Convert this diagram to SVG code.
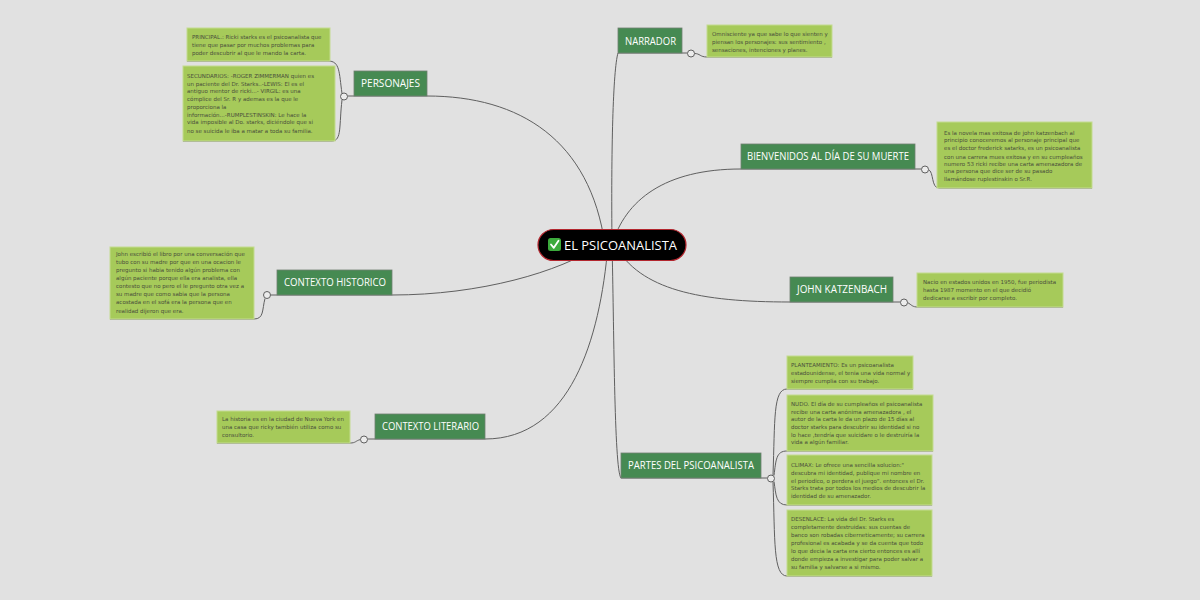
<svg xmlns="http://www.w3.org/2000/svg" width="1200" height="600" viewBox="0 0 1200 600">
<style>
.bg{fill:#e1e1e1}
.con{fill:none;stroke:#5f5f5f;stroke-width:1}
.dot{fill:#ececec;stroke:#5f5f5f;stroke-width:1}
.topic{fill:#468a52;stroke:#6f7f70;stroke-width:0.8}
.tl{font-family:"Open Sans","Liberation Sans",sans-serif;font-size:10px;fill:#ffffff}
.note{fill:#a6ca5a;stroke:#c4dc90;stroke-width:1}
.nt{font-family:"DejaVu Sans","Liberation Sans",sans-serif;font-size:5.5px;fill:#4a4f3a}
</style>
<rect class="bg" x="0" y="0" width="1200" height="600"/>

<g id="connectors">
  <path class="con" d="M612,245 C611,150 613,70 618,53 H687.5"/>
  <path class="con" d="M694.5,53.5 C700,53.5 700,57 707,57 H832"/>
  <path class="con" d="M605,245 C590,140 520,96 427,96 H347.5"/>
  <path class="con" d="M342,93.5 C339,72 340,61 328,61 H187"/>
  <path class="con" d="M342,100 C339,125 342,141 332,141 H183"/>
  <path class="con" d="M612,245 C625,200 665,169 741,169 H921.5"/>
  <path class="con" d="M928.5,169.5 C934,172 931,188 939,188 H1092"/>
  <path class="con" d="M600,245 C560,272 480,295 392,295 H270.5"/>
  <path class="con" d="M265,298.5 C262,310 264,319 254,319 H110"/>
  <path class="con" d="M615,245 C640,290 700,302 790,302 H900.5"/>
  <path class="con" d="M907.5,302.5 C912,305 912,307 918,307 H1063"/>
  <path class="con" d="M608,245 C600,340 570,439 485,439 H367.5"/>
  <path class="con" d="M360.5,439.5 C355,441 356,443 350,443 H217"/>
  <path class="con" d="M612,245 C614,320 614,470 621,478 H767.5"/>
  <path class="con" d="M773,475 C775,420 773,389 787,389 H913"/>
  <path class="con" d="M774,475.5 C776,460 776,451 787,451 H933"/>
  <path class="con" d="M774,481.5 C776,495 776,505 787,505 H932"/>
  <path class="con" d="M773,482 C775,540 773,576 787,576 H932"/>
  <circle class="dot" cx="691" cy="53.5" r="3.5"/>
  <circle class="dot" cx="344" cy="96.5" r="3.5"/>
  <circle class="dot" cx="925" cy="169.5" r="3.5"/>
  <circle class="dot" cx="267" cy="295" r="3.5"/>
  <circle class="dot" cx="904" cy="302.5" r="3.5"/>
  <circle class="dot" cx="364" cy="439.5" r="3.5"/>
  <circle class="dot" cx="771" cy="478.5" r="3.5"/>
</g>

<g id="center">
  <rect x="538" y="229.5" width="148" height="31" rx="15.5" fill="#000000" stroke="#b3262e" stroke-width="1.2"/>
  <rect x="548" y="238" width="13" height="13" rx="2.5" fill="#3caa3c"/>
  <path d="M551,244.5 L553.8,247.8 L558.5,240.8" fill="none" stroke="#ffffff" stroke-width="1.8" stroke-linecap="round" stroke-linejoin="round"/>
  <text x="564" y="249.5" font-family="'Open Sans','Liberation Sans',sans-serif" font-size="13.5" fill="#ffffff" textLength="113" lengthAdjust="spacingAndGlyphs">EL PSICOANALISTA</text>
</g>

<g id="narrador">
  <rect class="topic" x="618" y="28" width="64" height="25"/>
  <text class="tl" x="625" y="44.5" textLength="51" lengthAdjust="spacingAndGlyphs">NARRADOR</text>
</g>
<g id="narrador-note">
  <rect class="note" x="707" y="25" width="125" height="32"/>
  <text class="nt" x="712" y="36">Omnisciente ya que sabe lo que sienten y</text>
  <text class="nt" x="712" y="44">piensan los personajes: sus sentimiento ,</text>
  <text class="nt" x="712" y="52">sensaciones, intenciones y planes.</text>
</g>

<g id="personajes">
  <rect class="topic" x="354" y="71" width="73" height="25"/>
  <text class="tl" x="361" y="87" textLength="59" lengthAdjust="spacingAndGlyphs">PERSONAJES</text>
</g>
<g id="principal-note">
  <rect class="note" x="187" y="28" width="143" height="33"/>
  <text class="nt" x="192" y="39">PRINCIPAL.: Ricki starks es el psicoanalista que</text>
  <text class="nt" x="192" y="47">tiene que pasar por muchos problemas para</text>
  <text class="nt" x="192" y="54.5">poder descubrir al que le mando la carta.</text>
</g>
<g id="secundarios-note">
  <rect class="note" x="183" y="66" width="152" height="75"/>
  <text class="nt" x="187" y="78">SECUNDARIOS: -ROGER ZIMMERMAN quien es</text>
  <text class="nt" x="187" y="85.5">un paciente del Dr. Starks..-LEWIS: El es el</text>
  <text class="nt" x="187" y="93">antiguo mentor de ricki...- VIRGIL: es una</text>
  <text class="nt" x="187" y="101">cómplice del Sr. R y ademas es la que le</text>
  <text class="nt" x="187" y="109">proporciona la</text>
  <text class="nt" x="187" y="116.5">información...-RUMPLESTINSKIN: Le hace la</text>
  <text class="nt" x="187" y="124">vida imposible al Do. starks, diciéndole que si</text>
  <text class="nt" x="187" y="133">no se suicida le iba a matar a toda su familia.</text>
</g>

<g id="bienvenidos">
  <rect class="topic" x="741" y="144" width="174" height="25"/>
  <text class="tl" x="747" y="160" textLength="162" lengthAdjust="spacingAndGlyphs">BIENVENIDOS AL DÍA DE SU MUERTE</text>
</g>
<g id="bienvenidos-note">
  <rect class="note" x="937" y="122" width="155" height="66"/>
  <text class="nt" x="944" y="135">Es la novela mas exitosa de john katzenbach al</text>
  <text class="nt" x="944" y="142">principio conoceremos al personaje principal que</text>
  <text class="nt" x="944" y="149.5">es el doctor frederick satarks, es un psicoanalista</text>
  <text class="nt" x="944" y="158.5">con una carrera mues exitosa y en su cumpleaños</text>
  <text class="nt" x="944" y="165.5">numero 53 ricki recibe una carta amenazadora de</text>
  <text class="nt" x="944" y="173">una persona que dice ser de su pasado</text>
  <text class="nt" x="944" y="181">llamándose ruplestinskin o Sr.R.</text>
</g>

<g id="contexto-historico">
  <rect class="topic" x="277" y="270" width="115" height="25"/>
  <text class="tl" x="284" y="285.5" textLength="102" lengthAdjust="spacingAndGlyphs">CONTEXTO HISTORICO</text>
</g>
<g id="historico-note">
  <rect class="note" x="110" y="247" width="144" height="72"/>
  <text class="nt" x="116" y="256">John escribió el libro por una conversación que</text>
  <text class="nt" x="116" y="264">tubo con su madre por que en una ocacion le</text>
  <text class="nt" x="116" y="272">pregunto si habia tenido algún problema con</text>
  <text class="nt" x="116" y="280">algún paciente porque ella era analista, ella</text>
  <text class="nt" x="116" y="288">contesto que no pero el le pregunto otra vez a</text>
  <text class="nt" x="116" y="296">su madre  que como sabia que la persona</text>
  <text class="nt" x="116" y="304">acostada en el sofá era la persona que en</text>
  <text class="nt" x="116" y="313">realidad dijeron que era.</text>
</g>

<g id="john-katzenbach">
  <rect class="topic" x="790" y="277" width="103" height="25"/>
  <text class="tl" x="797" y="293" textLength="90" lengthAdjust="spacingAndGlyphs">JOHN KATZENBACH</text>
</g>
<g id="john-note">
  <rect class="note" x="917" y="273" width="146" height="34"/>
  <text class="nt" x="923" y="284">Nacio en estados unidos en 1950, fue periodista</text>
  <text class="nt" x="923" y="292">hasta 1987 momento en el que decidió</text>
  <text class="nt" x="923" y="300">dedicarse a escribir por completo.</text>
</g>

<g id="contexto-literario">
  <rect class="topic" x="375" y="414" width="110" height="25"/>
  <text class="tl" x="382" y="430" textLength="97" lengthAdjust="spacingAndGlyphs">CONTEXTO LITERARIO</text>
</g>
<g id="literario-note">
  <rect class="note" x="217" y="411" width="133" height="32"/>
  <text class="nt" x="222" y="421">La historia es en la ciudad de Nueva York en</text>
  <text class="nt" x="222" y="429">una casa que ricky también utiliza como su</text>
  <text class="nt" x="222" y="437">consultorio.</text>
</g>

<g id="partes">
  <rect class="topic" x="621" y="453" width="140" height="25"/>
  <text class="tl" x="628" y="468.5" textLength="126" lengthAdjust="spacingAndGlyphs">PARTES DEL PSICOANALISTA</text>
</g>
<g id="planteamiento-note">
  <rect class="note" x="787" y="356" width="126" height="33"/>
  <text class="nt" x="791" y="367">PLANTEAMIENTO: Es un psicoanalista</text>
  <text class="nt" x="791" y="375">estadounidense, el tenia una vida normal y</text>
  <text class="nt" x="791" y="382.5">siempre cumplia con su trabajo.</text>
</g>
<g id="nudo-note">
  <rect class="note" x="787" y="395" width="146" height="56"/>
  <text class="nt" x="791" y="406">NUDO. El día de su cumpleaños el psicoanalista</text>
  <text class="nt" x="791" y="413.5">recibe una carta anónima amenazadora , el</text>
  <text class="nt" x="791" y="421">autor de la carta le da un plazo de 15 días al</text>
  <text class="nt" x="791" y="429">doctor starks para descubrir su identidad si no</text>
  <text class="nt" x="791" y="437">lo hace ,tendría que suicidare o le destruiría la</text>
  <text class="nt" x="791" y="444">vida a algún familiar.</text>
</g>
<g id="climax-note">
  <rect class="note" x="787" y="455" width="145" height="50"/>
  <text class="nt" x="791" y="467">CLIMAX: Le ofrece una sencilla solucion:"</text>
  <text class="nt" x="791" y="475">descubra mi identidad, publique mi nombre en</text>
  <text class="nt" x="791" y="482.5">el periodico, o perdera el juego". entonces el Dr.</text>
  <text class="nt" x="791" y="490">Starks trata por todos los medios de descubrir la</text>
  <text class="nt" x="791" y="498">identidad de su amenazador.</text>
</g>
<g id="desenlace-note">
  <rect class="note" x="787" y="510" width="145" height="66"/>
  <text class="nt" x="791" y="521">DESENLACE: La vida del Dr. Starks es</text>
  <text class="nt" x="791" y="529">completamente destruidas: sus cuentas de</text>
  <text class="nt" x="791" y="537">banco son robadas ciberneticamente; su carrera</text>
  <text class="nt" x="791" y="545">profesional es acabada y se da cuenta que todo</text>
  <text class="nt" x="791" y="553">lo que decia la carta era cierto entonces es allí</text>
  <text class="nt" x="791" y="561">donde empieza a investigar para poder salvar a</text>
  <text class="nt" x="791" y="569">su familia y salvarse a si mismo.</text>
</g>
</svg>
